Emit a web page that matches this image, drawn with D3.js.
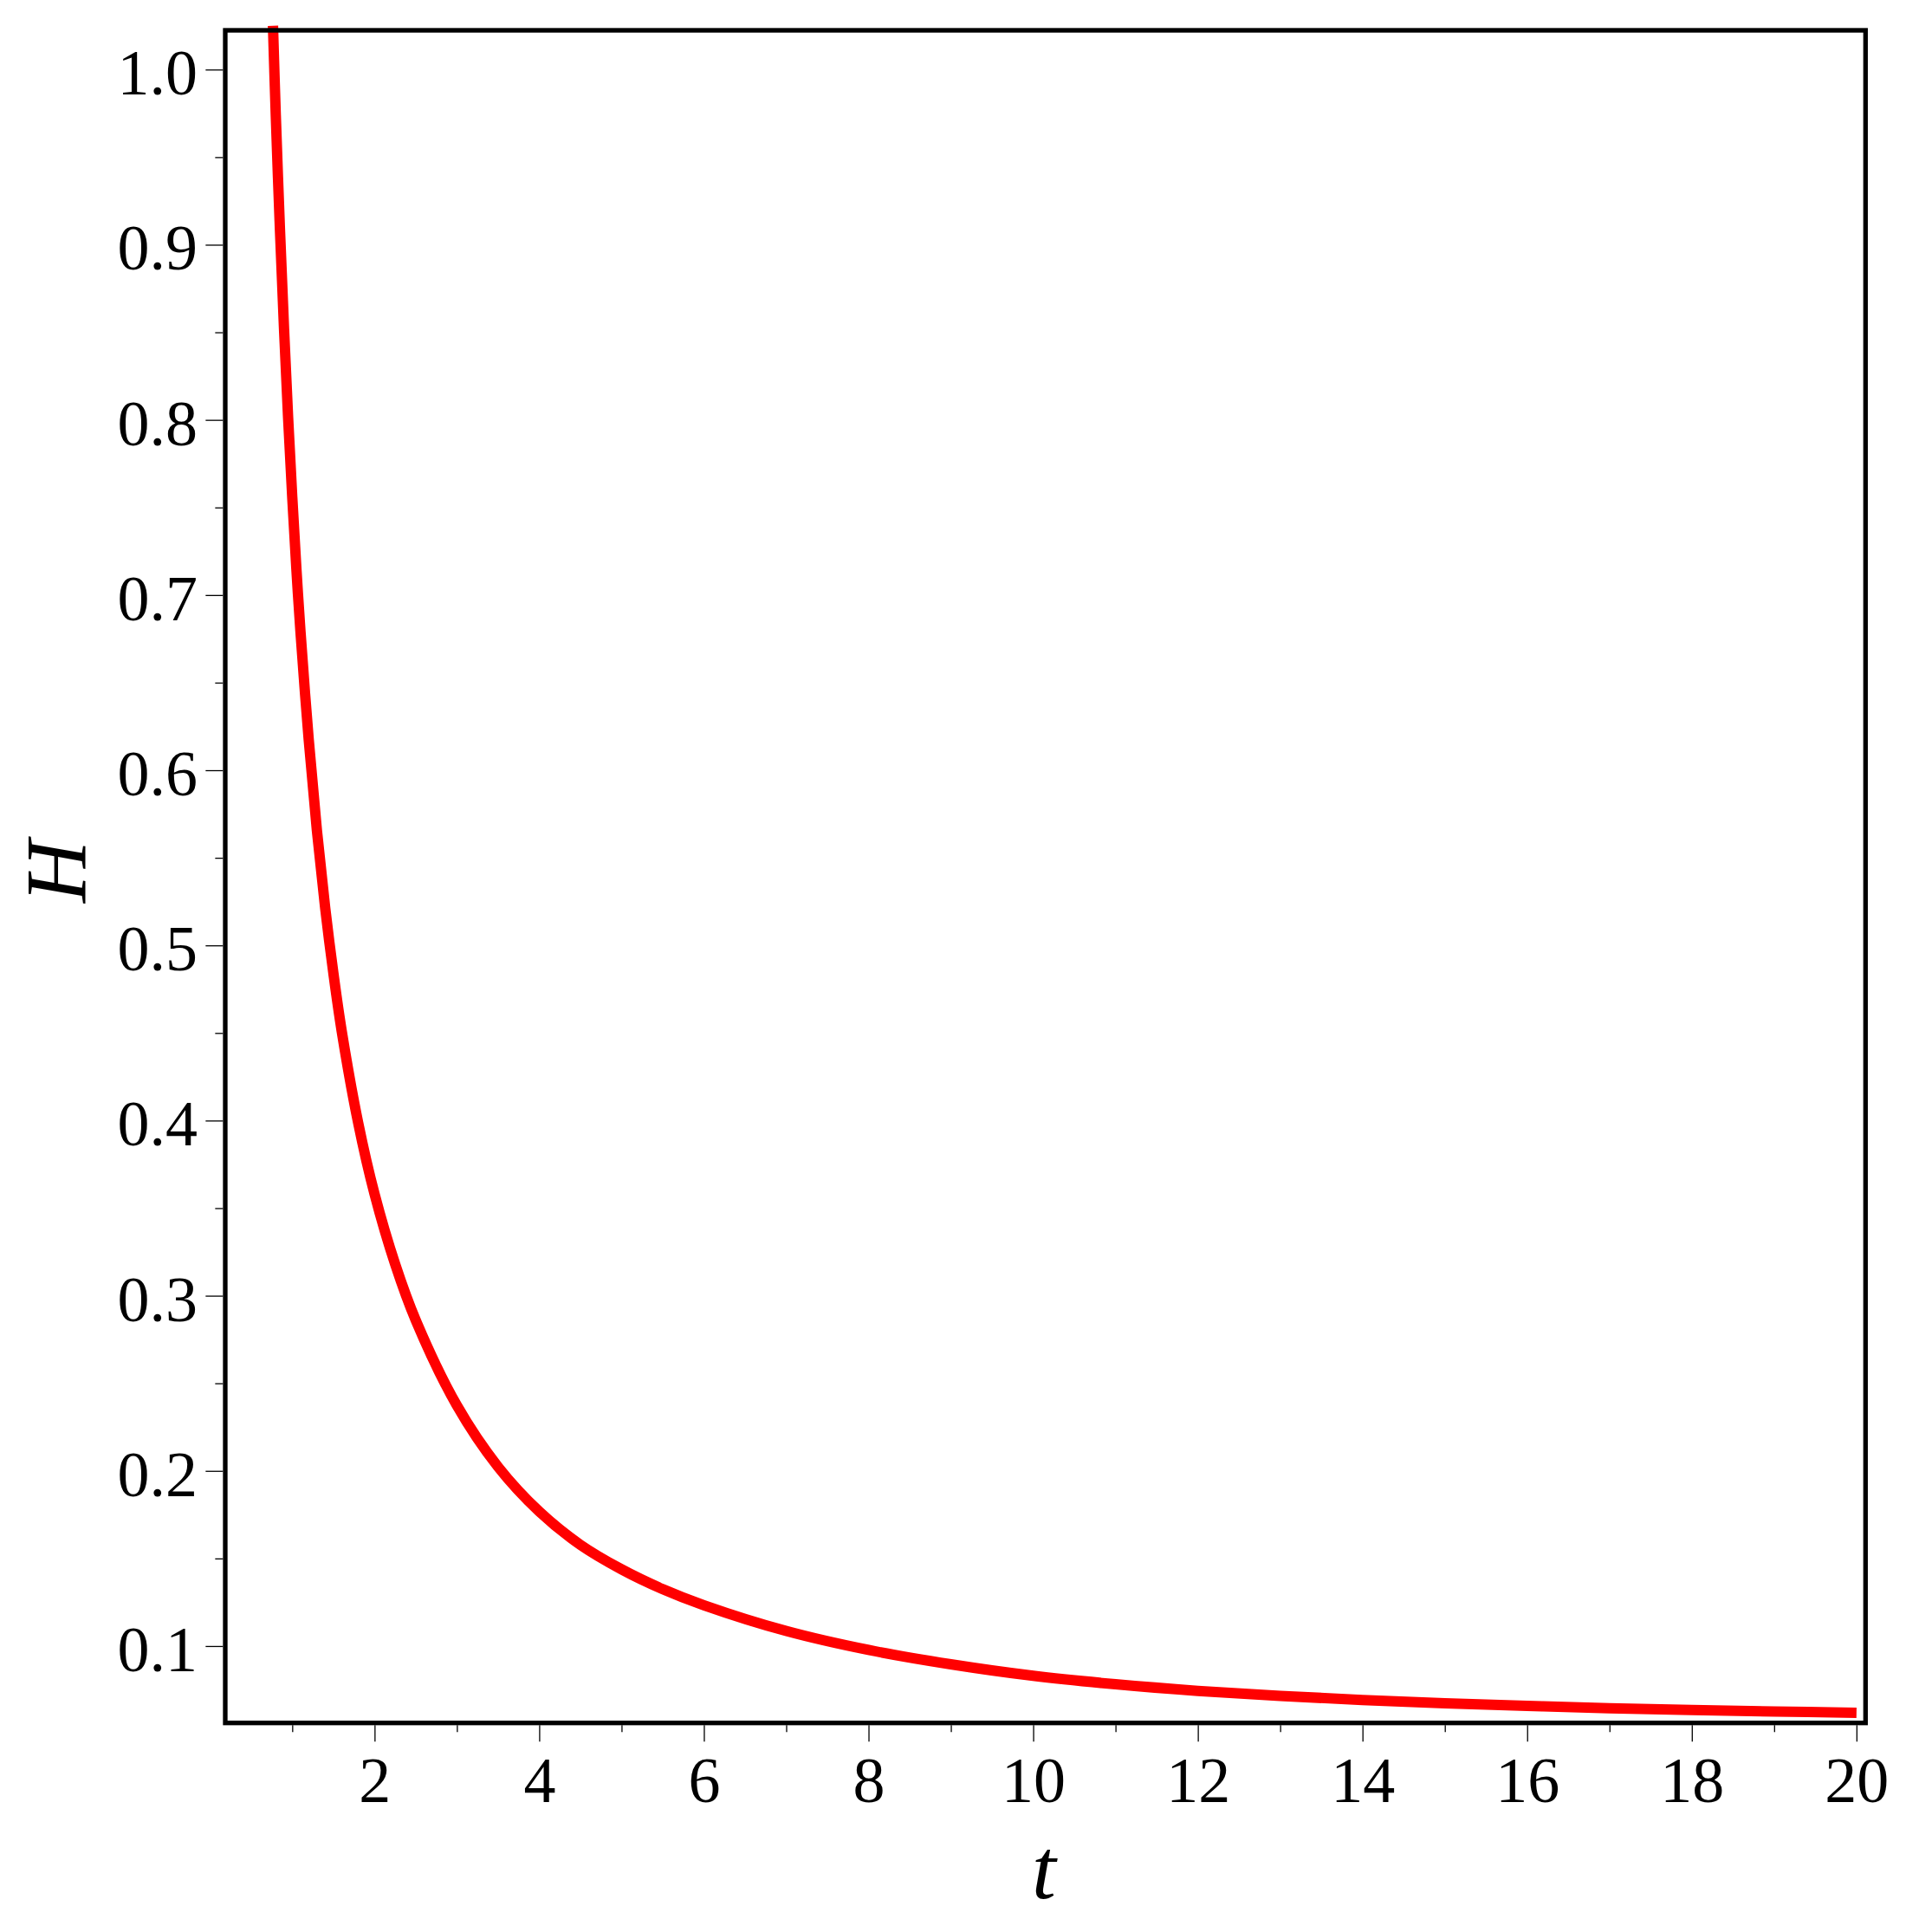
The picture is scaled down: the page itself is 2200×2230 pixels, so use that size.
<!DOCTYPE html>
<html>
<head>
<meta charset="utf-8">
<script src="https://cdn.jsdelivr.net/npm/d3@7"></script>
<style>
  html, body { margin: 0; padding: 0; background: #ffffff; }
  svg { display: block; }
</style>
</head>
<body>
<script>
// ---- data ----
const tValues = [0.766, 0.80, 0.85, 0.90, 0.95, 1.00, 1.05, 1.10, 1.2, 1.3,
                 1.4, 1.5, 1.6, 1.8, 2.0, 2.25, 2.5, 3.0, 3.5, 4.0,
                 4.5, 5.0, 5.5, 6.0, 7.0, 8.0, 9.0, 10.0, 11.0, 12.0,
                 13.0, 14.0, 15.0, 16.0, 17.0, 18.0, 19.0, 20.0];
const hValues = [1.025, 0.974, 0.9094, 0.8522, 0.8011, 0.756, 0.7152, 0.6791, 0.6175, 0.5654,
                 0.5214, 0.4840, 0.4513, 0.3989, 0.358, 0.3180, 0.286, 0.2373, 0.2023, 0.1768,
                 0.1578, 0.1438, 0.1325, 0.1233, 0.1086, 0.09775, 0.08956, 0.0830, 0.07818, 0.07442,
                 0.07154, 0.06921, 0.06733, 0.06581, 0.06453, 0.06350, 0.06263, 0.0619];
const xMajorTicks = [2, 4, 6, 8, 10, 12, 14, 16, 18, 20];
const xMinorTicks = [1, 3, 5, 7, 9, 11, 13, 15, 17, 19];
const yMajorTicks = [0.1, 0.2, 0.3, 0.4, 0.5, 0.6, 0.7, 0.8, 0.9, 1.0];
const yMinorTicks = [0.15, 0.25, 0.35, 0.45, 0.55, 0.65, 0.75, 0.85, 0.95];
const xTitle = "t";
const yTitle = "H";

(function () {
  // ---- layout ----
  const W = 2200, HH = 2230;
  const pLeft = 260, pRight = 2153.3, pTop = 35, pBottom = 1988.7;
  const frameW = 5.3;
  const fontFamily = "'Liberation Serif', 'Times New Roman', Times, serif";

  const x = d3.scaleLinear().domain([0.1863, 20.11]).range([pLeft, pRight]);
  const y = d3.scaleLinear().domain([0.0561, 1.0224]).range([pBottom, pTop]);

  const svg = d3.select("body").append("svg")
    .attr("width", W).attr("height", HH)
    .attr("viewBox", `0 0 ${W} ${HH}`);

  svg.append("rect").attr("width", W).attr("height", HH).attr("fill", "#ffffff");

  // ---- curve ----
  const pts = tValues.map((t, i) => [t, hValues[i]]);
  const line = d3.line()
    .x(d => x(d[0]))
    .y(d => y(d[1]))
    .curve(d3.curveCatmullRom.alpha(0.5));

  svg.append("path")
    .datum(pts)
    .attr("d", line)
    .attr("fill", "none")
    .attr("stroke", "#ff0000")
    .attr("stroke-width", 12)
    .attr("stroke-linecap", "butt")
    .attr("stroke-linejoin", "round");

  // ---- axes ----
  const tickStroke = 1.3;
  const labelSize = 74;

  const gxMinor = svg.append("g")
    .attr("transform", `translate(0,${pBottom + frameW / 2})`)
    .call(d3.axisBottom(x).tickValues(xMinorTicks).tickSize(8).tickFormat(""));
  const gxMajor = svg.append("g")
    .attr("transform", `translate(0,${pBottom + frameW / 2})`)
    .call(d3.axisBottom(x).tickValues(xMajorTicks).tickSize(19).tickPadding(16.7)
          .tickFormat(d3.format("d")));
  const gyMinor = svg.append("g")
    .attr("transform", `translate(${pLeft - frameW / 2},0)`)
    .call(d3.axisLeft(y).tickValues(yMinorTicks).tickSize(9).tickFormat(""));
  const gyMajor = svg.append("g")
    .attr("transform", `translate(${pLeft - frameW / 2},0)`)
    .call(d3.axisLeft(y).tickValues(yMajorTicks).tickSize(20).tickPadding(9.4)
          .tickFormat(d3.format(".1f")));

  [gxMinor, gxMajor, gyMinor, gyMajor].forEach(g => {
    g.select(".domain").remove();
    g.selectAll(".tick line").attr("stroke", "#000").attr("stroke-width", tickStroke);
    g.selectAll(".tick text")
      .attr("fill", "#000")
      .style("font-family", fontFamily)
      .style("font-size", labelSize + "px");
  });
  gyMajor.selectAll(".tick text").attr("dy", "0.385em");

  // ---- frame ----
  svg.append("rect")
    .attr("x", pLeft).attr("y", pTop)
    .attr("width", pRight - pLeft).attr("height", pBottom - pTop)
    .attr("fill", "none")
    .attr("stroke", "#000")
    .attr("stroke-width", frameW);

  // ---- axis titles ----
  svg.append("text")
    .attr("x", 1205).attr("y", 2191)
    .attr("text-anchor", "middle")
    .style("font-family", fontFamily)
    .style("font-style", "italic")
    .style("font-size", "100px")
    .attr("fill", "#000")
    .text(xTitle);

  svg.append("text")
    .attr("transform", "translate(98,1006) rotate(-90)")
    .attr("text-anchor", "middle")
    .style("font-family", fontFamily)
    .style("font-style", "italic")
    .style("font-size", "100px")
    .attr("fill", "#000")
    .text(yTitle);
})();
</script>
</body>
</html>
